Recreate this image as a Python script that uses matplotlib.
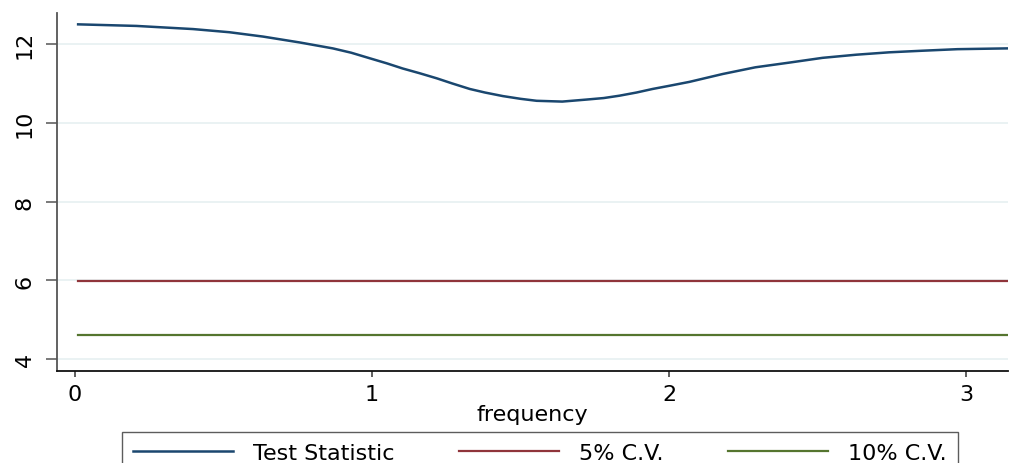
import matplotlib
matplotlib.use('Agg')
import matplotlib.pyplot as plt
import numpy as np

plt.rcParams['font.family'] = ['DejaVu Sans']

# test statistic over frequency
freq = [0.011, 0.207, 0.398, 0.52, 0.633, 0.757, 0.868, 0.93, 0.992, 1.05,
        1.103, 1.16, 1.218, 1.27, 1.329, 1.38, 1.44, 1.50, 1.554, 1.64,
        1.72, 1.78, 1.833, 1.89, 1.944, 2.0, 2.068, 2.18, 2.29,
        2.405, 2.516, 2.63, 2.74, 2.85, 2.97, 3.138]
stat = [12.50, 12.46, 12.38, 12.30, 12.19, 12.04, 11.89, 11.78, 11.64, 11.51,
        11.38, 11.26, 11.13, 11.00, 10.86, 10.77, 10.68, 10.61, 10.56, 10.54,
        10.59, 10.63, 10.69, 10.77, 10.86, 10.94, 11.04, 11.24, 11.41,
        11.53, 11.65, 11.73, 11.79, 11.83, 11.87, 11.89]
cv5 = 5.99
cv10 = 4.61

navy = '#1a476f'
maroon = '#90353b'
green = '#55752f'

fig = plt.figure(figsize=(10.11, 4.64), dpi=100)
ax = fig.add_axes([0.0564, 0.198, 0.9406, 0.772])

ax.plot(freq, stat, color=navy, lw=1.8, label='Test Statistic')
ax.plot([freq[0], freq[-1]], [cv5, cv5], color=maroon, lw=1.6, label='5% C.V.')
ax.plot([freq[0], freq[-1]], [cv10, cv10], color=green, lw=1.6, label='10% C.V.')

ax.set_xlim(-0.06, 3.14)
ax.set_ylim(3.70, 12.79)
ax.set_xticks([0, 1, 2, 3])
ax.set_yticks([4, 6, 8, 10, 12])
ax.yaxis.grid(True, color='#eaf2f3', lw=1.4)
ax.set_axisbelow(True)

for s in ['top', 'right']:
    ax.spines[s].set_visible(False)
ax.spines['left'].set_color('#555555')
ax.spines['left'].set_linewidth(1.3)
ax.spines['bottom'].set_color('#111111')
ax.spines['bottom'].set_linewidth(1.3)

ax.tick_params(axis='y', length=8, width=1.1, color='#555555', pad=8,
               labelsize=16, labelrotation=90)
for lab in ax.get_yticklabels():
    lab.set_va('center')
ax.tick_params(axis='x', length=4.5, width=1.1, color='#333333', pad=5,
               labelsize=16)
ax.set_xlabel('frequency', fontsize=16, labelpad=0)

fig.legend(loc='upper center', bbox_to_anchor=(0.534, 0.0668), ncol=3,
           fontsize=16, frameon=True, fancybox=False, edgecolor='#333333',
           handlelength=4.5, handletextpad=0.9, columnspacing=2.9,
           borderpad=0.5, borderaxespad=0)

fig.savefig('out.png', dpi=100)
